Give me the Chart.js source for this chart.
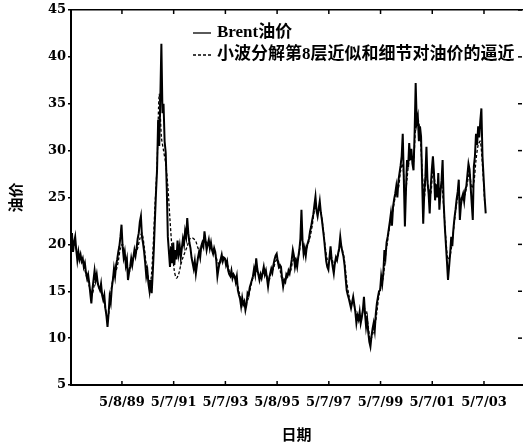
<!DOCTYPE html>
<html>
<head>
<meta charset="utf-8">
<script src="https://cdn.jsdelivr.net/npm/chart.js@4.4.1/dist/chart.umd.min.js"></script>
<style>
  html, body { margin: 0; padding: 0; background: #fff; }
  canvas { display: block; }
</style>
</head>
<body>
<canvas id="oil" width="523" height="447"></canvas>
<script>
// Brent 油价, 半月采样, 起点 1987.375
const BRENT_START = 1987.375;
const brent1987 = [19.0, 21.2, 19.2, 20.2, 20.8, 19.4, 18.3, 19.2, 18.4, 18.9, 18.2, 18.5, 17.6, 18.0, 17.0];
const brent1988 = [16.4, 16.8, 15.9, 14.8, 13.7, 15.2, 16.2, 17.2, 16.2, 16.8, 15.8, 15.4, 15.1, 15.8, 14.6, 14.1, 14.6, 13.2, 12.4, 11.2, 12.6, 14.4, 13.8, 15.4];
const brent1989 = [16.2, 17.4, 16.6, 17.8, 18.4, 19.2, 19.8, 20.8, 22.1, 19.8, 18.6, 19.2, 17.8, 18.4, 16.2, 17.0, 17.6, 18.5, 17.8, 18.6, 19.4, 18.8, 19.6, 20.6];
const brent1990 = [21.2, 22.4, 23.0, 20.8, 20.1, 19.2, 18.0, 16.6, 17.2, 15.8, 15.0, 16.2, 14.8, 17.0, 19.5, 22.6, 25.5, 28.0, 33.3, 30.5, 35.5, 41.4, 34.0, 35.0];
const brent1991 = [31.0, 29.8, 26.0, 20.8, 19.2, 17.6, 19.8, 18.0, 20.2, 17.8, 19.4, 18.4, 20.4, 19.0, 19.8, 18.6, 19.6, 20.6, 20.0, 21.4, 20.8, 22.8, 21.2, 20.2];
const brent1992 = [19.6, 18.6, 18.0, 17.4, 18.2, 16.9, 17.8, 18.6, 19.2, 18.6, 19.8, 20.2, 19.8, 21.4, 20.4, 19.4, 20.0, 20.5, 19.6, 20.2, 19.4, 19.0, 19.6, 19.2];
const brent1993 = [18.2, 16.6, 17.4, 18.0, 18.4, 18.9, 18.2, 18.6, 18.5, 17.8, 18.2, 17.2, 16.8, 16.6, 17.2, 16.4, 16.8, 16.6, 16.0, 16.6, 15.1, 14.6, 14.2, 13.4];
const brent1994 = [14.3, 13.6, 13.9, 13.0, 13.6, 14.8, 14.6, 15.4, 15.8, 16.2, 16.6, 17.4, 16.8, 18.5, 17.4, 16.8, 16.2, 16.8, 16.4, 17.0, 17.6, 16.8, 17.2, 16.4];
const brent1995 = [15.5, 16.4, 16.9, 17.4, 17.0, 17.8, 18.4, 18.8, 19.0, 18.2, 17.6, 17.8, 17.6, 16.4, 15.5, 16.2, 16.0, 16.8, 16.6, 17.2, 16.9, 17.6, 18.4, 19.4];
const brent1996 = [18.8, 17.6, 18.2, 17.6, 18.6, 19.4, 20.6, 23.7, 20.4, 19.0, 19.6, 18.8, 19.8, 20.2, 20.6, 21.4, 21.9, 22.6, 23.2, 24.2, 25.1, 23.6, 23.0, 23.8];
const brent1997 = [24.6, 23.4, 22.6, 21.6, 20.6, 19.4, 18.2, 17.6, 17.3, 18.6, 19.8, 18.4, 17.6, 16.9, 18.0, 18.6, 18.3, 19.0, 19.6, 20.8, 19.8, 19.2, 18.7, 17.8];
const brent1998 = [16.4, 15.1, 14.6, 14.2, 13.7, 13.2, 13.8, 14.4, 13.6, 12.8, 11.6, 12.4, 12.0, 12.8, 11.6, 12.2, 13.0, 14.4, 12.6, 11.2, 12.0, 10.6, 9.6, 9.1];
const brent1999 = [10.2, 11.0, 11.6, 10.8, 12.6, 13.7, 14.4, 15.0, 15.1, 16.6, 15.8, 17.0, 19.4, 18.6, 20.2, 20.8, 21.6, 22.4, 23.3, 22.0, 24.0, 24.8, 25.4, 26.2];
const brent2000 = [25.0, 26.8, 27.6, 28.4, 29.4, 31.8, 27.0, 21.9, 25.8, 29.0, 28.2, 30.8, 29.0, 30.2, 28.6, 27.9, 31.8, 37.2, 33.0, 33.6, 31.0, 32.6, 31.5, 26.8];
const brent2001 = [22.2, 25.6, 27.2, 30.4, 26.6, 25.4, 23.3, 26.2, 28.0, 29.4, 27.6, 24.7, 26.4, 25.0, 27.6, 23.7, 25.6, 26.8, 29.0, 24.4, 22.0, 20.1, 18.2, 16.2];
const brent2002 = [17.6, 19.0, 20.8, 19.8, 21.6, 22.8, 23.7, 24.8, 25.6, 26.9, 22.6, 24.2, 25.0, 25.4, 24.6, 25.8, 26.2, 27.4, 28.6, 28.0, 26.2, 24.4, 22.6, 28.3];
const brent2003 = [29.4, 31.8, 30.6, 32.6, 31.4, 33.2, 34.5, 29.4, 27.2, 25.0, 23.3];

// 小波分解第8层近似和细节的逼近, 月采样, 起点 1987.375
const APPROX_START = 1987.375;
const approx1987 = [19.4, 20.0, 19.8, 19.2, 18.8, 18.4, 17.8, 16.8];
const approx1988 = [16.0, 15.2, 14.8, 15.8, 16.2, 15.4, 15.0, 14.4, 13.2, 12.0, 13.4, 15.6];
const approx1989 = [16.8, 17.2, 18.2, 19.6, 20.0, 18.6, 17.8, 17.0, 17.8, 18.6, 19.0, 19.6];
const approx1990 = [20.6, 21.2, 19.8, 17.8, 16.4, 16.0, 19.0, 24.0, 28.5, 36.0, 31.5, 30.0];
const approx1991 = [28.6, 26.2, 22.6, 19.4, 17.2, 16.4, 16.8, 17.8, 18.6, 19.2, 19.8, 20.5];
const approx1992 = [20.7, 20.6, 20.3, 19.6, 19.2, 19.8, 20.4, 20.2, 20.0, 19.8, 19.6, 19.0];
const approx1993 = [18.2, 17.8, 18.4, 18.6, 18.2, 17.6, 16.8, 16.6, 16.4, 16.0, 15.0, 14.0];
const approx1994 = [13.8, 13.6, 14.0, 15.0, 16.0, 16.8, 17.2, 16.8, 16.4, 16.8, 17.0, 16.6];
const approx1995 = [16.2, 17.0, 17.4, 18.2, 18.4, 17.4, 16.2, 16.0, 16.4, 16.8, 17.2, 18.2];
const approx1996 = [18.6, 18.2, 19.2, 20.8, 19.8, 19.4, 20.0, 20.8, 22.0, 23.6, 24.0, 23.8];
const approx1997 = [23.4, 21.8, 19.8, 18.4, 18.4, 18.6, 17.8, 18.2, 18.8, 19.8, 19.4, 18.2];
const approx1998 = [16.0, 14.6, 13.6, 13.8, 13.0, 12.2, 12.2, 12.4, 13.2, 12.8, 11.2, 9.8];
const approx1999 = [10.4, 11.2, 12.8, 14.6, 15.6, 16.6, 18.8, 20.4, 22.0, 23.0, 24.4, 25.6];
const approx2000 = [26.0, 27.8, 28.6, 25.0, 27.0, 29.0, 29.0, 28.8, 32.6, 33.4, 32.0, 28.0];
const approx2001 = [25.0, 27.6, 26.0, 25.4, 27.8, 26.6, 25.6, 25.6, 26.4, 24.0, 20.6, 18.4];
const approx2002 = [18.8, 20.4, 22.4, 24.4, 25.4, 24.6, 25.0, 25.4, 26.6, 27.6, 26.0, 26.6];
const approx2003 = [29.0, 30.6, 31.0, 28.4, 24.6];

// 横轴刻度 (年份小数) 和标签
const tickDates = [1989.35, 1991.35, 1993.35, 1995.35, 1997.35, 1999.35, 2001.35, 2003.35];
const tickLabels = ['5/8/89', '5/7/91', '5/7/93', '5/8/95', '5/7/97', '5/7/99', '5/7/01', '5/7/03'];

const brent = [].concat(brent1987, brent1988, brent1989, brent1990, brent1991, brent1992,
    brent1993, brent1994, brent1995, brent1996, brent1997, brent1998, brent1999,
    brent2000, brent2001, brent2002, brent2003);
const approx = [].concat(approx1987, approx1988, approx1989, approx1990, approx1991, approx1992,
    approx1993, approx1994, approx1995, approx1996, approx1997, approx1998, approx1999,
    approx2000, approx2001, approx2002, approx2003);

const brentPts = brent.map((v, i) => ({ x: BRENT_START + i / 24, y: v }));
const approxPts = approx.map((v, i) => ({ x: APPROX_START + i / 12, y: v }));

const X_MIN = 1987.38;
const X_MAX = 2004.82;

const tickFont = { family: '"DejaVu Serif", serif', weight: 'bold', size: 13 };
const cjkFont = { family: '"Noto Sans CJK SC", sans-serif', weight: 'bold', size: 15 };

// 图内图例
const innerLegend = {
    id: 'innerLegend',
    afterDraw(chart) {
        const ctx = chart.ctx;
        ctx.save();
        ctx.font = 'bold 17px "Liberation Serif", "Noto Sans CJK SC", serif';
        ctx.fillStyle = '#000';
        ctx.strokeStyle = '#000';
        ctx.textBaseline = 'middle';
        chart.data.datasets.forEach((ds, i) => {
            const y = 33 + i * 22;
            ctx.beginPath();
            ctx.setLineDash(ds.borderDash || []);
            ctx.lineWidth = 1.3;
            ctx.moveTo(193, y);
            ctx.lineTo(211, y);
            ctx.stroke();
            ctx.setLineDash([]);
            ctx.fillText(ds.label, 217, y);
        });
        ctx.restore();
    },
};

// 向内的刻度线
const innerTicks = {
    id: 'innerTicks',
    afterDraw(chart) {
        const { ctx, chartArea: a, scales: { x, y } } = chart;
        ctx.save();
        ctx.strokeStyle = '#000';
        ctx.lineWidth = 1.5;
        const seg = (x1, y1, x2, y2) => {
            ctx.beginPath(); ctx.moveTo(x1, y1); ctx.lineTo(x2, y2); ctx.stroke();
        };
        x.ticks.forEach((t, i) => {
            const px = x.getPixelForTick(i);
            seg(px, a.bottom, px, a.bottom - 4);
            seg(px, a.top, px, a.top + 4);
        });
        y.ticks.forEach((t, i) => {
            const py = y.getPixelForTick(i);
            seg(a.right, py, a.right - 4, py);
        });
        ctx.restore();
    },
};

new Chart(document.getElementById('oil'), {
    type: 'line',
    data: {
        datasets: [
            {
                label: 'Brent油价',
                data: brentPts,
                borderColor: '#000',
                borderWidth: 2,
                pointRadius: 0,
                tension: 0,
            },
            {
                label: '小波分解第8层近似和细节对油价的逼近',
                data: approxPts,
                borderColor: '#000',
                borderWidth: 1.3,
                borderDash: [3, 2],
                pointRadius: 0,
                tension: 0.3,
            },
        ],
    },
    options: {
        responsive: false,
        animation: false,
        events: [],
        layout: { padding: 0 },
        plugins: { legend: { display: false }, tooltip: { enabled: false } },
        scales: {
            x: {
                type: 'linear',
                position: 'bottom',
                min: X_MIN,
                max: X_MAX,
                afterBuildTicks: s => { s.ticks = tickDates.map(v => ({ value: v })); },
                afterFit: s => { s.height = 62; },
                ticks: {
                    autoSkip: false,
                    maxRotation: 0,
                    padding: 2,
                    color: '#000',
                    font: tickFont,
                    callback: (v, i) => tickLabels[i],
                },
                grid: { display: false },
                border: { display: true, color: '#000', width: 2 },
                title: { display: true, text: '日期', color: '#000', font: cjkFont, padding: { top: 0, bottom: 4 } },
            },
            xTop: {
                type: 'linear',
                position: 'top',
                min: X_MIN,
                max: X_MAX,
                afterFit: s => { s.height = 10; },
                ticks: { display: false },
                grid: { display: false },
                border: { display: true, color: '#000', width: 1.5 },
            },
            y: {
                min: 5,
                max: 45,
                afterFit: s => { s.width = 71; },
                ticks: { stepSize: 5, padding: 2, color: '#000', font: tickFont },
                grid: { drawOnChartArea: false, tickLength: 3, color: '#000', lineWidth: 1.5 },
                border: { display: true, color: '#000', width: 2 },
                title: { display: true, text: '油价', color: '#000', font: cjkFont, padding: { top: 6, bottom: 0 } },
            },
            yRight: {
                position: 'right',
                min: 5,
                max: 45,
                afterFit: s => { s.width = 1; },
                ticks: { display: false },
                grid: { display: false },
                border: { display: false },
            },
        },
    },
    plugins: [innerLegend, innerTicks],
});
</script>
</body>
</html>
